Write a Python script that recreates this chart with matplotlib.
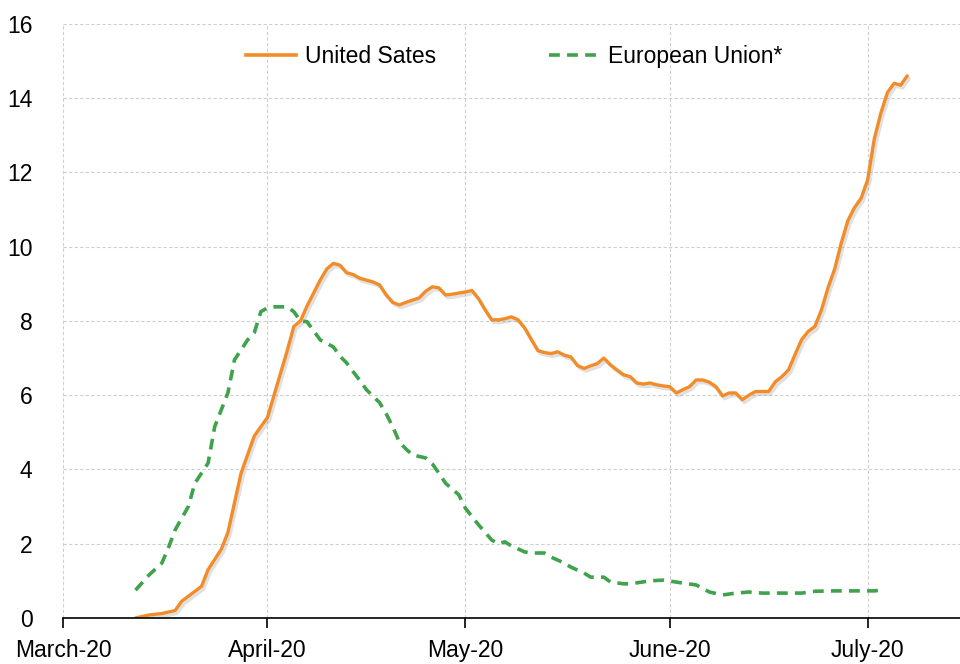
import matplotlib
matplotlib.use('Agg')
import matplotlib.pyplot as plt
import matplotlib.patheffects as pe
from matplotlib.lines import Line2D
import pandas as pd

# United States: days counted from 1 March 2020
us_days = [11, 13, 15, 17, 18, 21, 22, 24, 25, 26, 27, 28, 29, 31, 32, 33, 34, 35,
           36, 37, 38, 39, 40, 41, 42, 43, 44, 45, 46, 47, 48, 49, 50, 51, 52, 54,
           55, 56, 57, 58, 59, 60, 61, 62, 63, 64, 65, 66, 67, 68, 69, 70, 71, 72,
           73, 74, 75, 76, 77, 78, 79, 80, 81, 82, 83, 84, 85, 86, 87, 88, 89, 90,
           91, 92, 93, 94, 95, 96, 97, 98, 99, 100, 101, 102, 103, 104, 105, 106,
           107, 108, 109, 110, 111, 112, 113, 114, 115, 116, 117, 118, 119, 120,
           121, 122, 123, 124, 125, 126, 127, 128]
us_vals = [0.0, 0.08, 0.12, 0.2, 0.45, 0.85, 1.3, 1.85, 2.3, 3.1, 3.9, 4.4, 4.9, 5.4,
           6.0, 6.6, 7.2, 7.85, 8.0, 8.4, 8.75, 9.1, 9.4, 9.55, 9.5, 9.3, 9.25, 9.15,
           9.1, 9.05, 8.97, 8.7, 8.5, 8.43, 8.5, 8.62, 8.8, 8.92, 8.89, 8.7, 8.72,
           8.75, 8.78, 8.82, 8.6, 8.3, 8.03, 8.03, 8.06, 8.11, 8.03, 7.81, 7.5, 7.2,
           7.15, 7.12, 7.17, 7.08, 7.03, 6.8, 6.72, 6.79, 6.85, 7.0, 6.82, 6.68, 6.55,
           6.5, 6.33, 6.3, 6.33, 6.28, 6.25, 6.23, 6.06, 6.15, 6.23, 6.41, 6.41, 6.35,
           6.23, 5.98, 6.06, 6.06, 5.88, 6.0, 6.1, 6.1, 6.1, 6.36, 6.5, 6.68, 7.1,
           7.5, 7.72, 7.85, 8.3, 8.9, 9.4, 10.1, 10.7, 11.05, 11.3, 11.8, 12.9, 13.6,
           14.15, 14.4, 14.35, 14.6]

# European Union
eu_days = [11, 13, 15, 16, 17, 19, 20, 22, 23, 25, 26, 28, 29, 30, 31, 32, 34, 35,
           36, 37, 39, 41, 42, 43, 44, 45, 46, 48, 49, 50, 51, 52, 53, 55, 56, 57,
           58, 60, 61, 63, 65, 66, 67, 68, 70, 71, 73, 74, 76, 77, 79, 80, 82, 83,
           85, 86, 89, 91, 94, 96, 98, 100, 102, 104, 106, 109, 112, 114, 117, 119,
           122, 123, 124]
eu_vals = [0.75, 1.15, 1.48, 1.9, 2.37, 3.0, 3.63, 4.17, 5.15, 6.06, 6.95, 7.49, 7.68,
           8.25, 8.35, 8.38, 8.38, 8.25, 8.0, 7.98, 7.49, 7.3, 7.05, 6.87, 6.63, 6.4,
           6.15, 5.8, 5.5, 5.15, 4.74, 4.55, 4.39, 4.31, 4.15, 3.9, 3.63, 3.32, 2.96,
           2.51, 2.1, 2.0, 2.05, 1.94, 1.78, 1.75, 1.75, 1.64, 1.48, 1.37, 1.21, 1.1,
           1.1, 0.97, 0.92, 0.92, 1.0, 1.02, 0.94, 0.89, 0.7, 0.62, 0.67, 0.7, 0.67,
           0.67, 0.67, 0.72, 0.73, 0.73, 0.73, 0.73, 0.75]

month_ticks = ['2020-03-01', '2020-04-01', '2020-05-01', '2020-06-01', '2020-07-01']
month_labels = ['March-20', 'April-20', 'May-20', 'June-20', 'July-20']
y_ticks = [0, 2, 4, 6, 8, 10, 12, 14, 16]

start = pd.Timestamp('2020-03-01')
us_dates = [start + pd.Timedelta(days=d) for d in us_days]
eu_dates = [start + pd.Timedelta(days=d) for d in eu_days]

orange = '#F28C28'
green = '#3FA24C'

plt.rcParams['font.family'] = ['Liberation Sans', 'DejaVu Sans']

fig = plt.figure(figsize=(9.6, 6.64), dpi=100)
ax = fig.add_axes([0.0656, 0.0693, 0.9344, 0.8947])

ax.plot(us_dates, us_vals, color=orange, lw=2.4, solid_capstyle='round',
        path_effects=[pe.SimpleLineShadow(offset=(1.5, -2), shadow_color='#999999', alpha=0.3),
                      pe.Normal()])
ax.plot(eu_dates, eu_vals, color=green, lw=2.6, ls=(0, (3, 2)))

ax.set_ylim(0, 16)
ax.set_xlim(pd.Timestamp('2020-03-01'), pd.Timestamp('2020-07-15'))
ax.set_yticks(y_ticks)
ax.set_xticks([pd.Timestamp(t) for t in month_ticks])
ax.set_xticklabels(month_labels)

ax.grid(True, color='#cfcfcf', ls=(0, (3, 2)), lw=0.8)
ax.set_axisbelow(True)
for s in ['left', 'top', 'right']:
    ax.spines[s].set_visible(False)
ax.spines['bottom'].set_color('black')
ax.spines['bottom'].set_linewidth(1.2)
ax.tick_params(axis='y', length=0, pad=22, labelsize=16.5)
ax.tick_params(axis='x', length=7, width=1.2, direction='out', pad=8, labelsize=16.5)

handles = [Line2D([], [], color=orange, lw=2.6),
           Line2D([], [], color=green, lw=2.6, ls=(0, (3, 2)))]
ax.legend(handles, ['United Sates', 'European Union*'], loc='upper center',
          bbox_to_anchor=(0.503, 1.0), ncol=2, frameon=False,
          fontsize=16.5, handlelength=2.2, handletextpad=0.4, columnspacing=4.9)

fig.savefig('out.png', dpi=100)
